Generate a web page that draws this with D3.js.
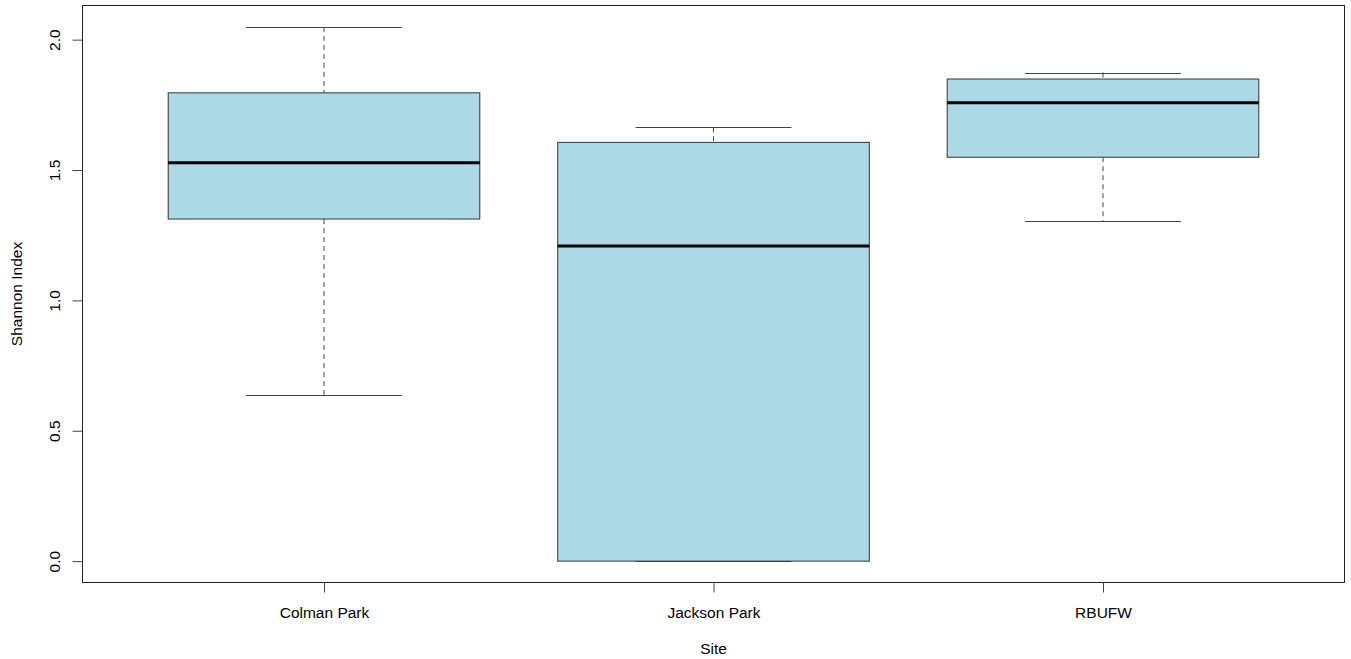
<!DOCTYPE html>
<html><head><meta charset="utf-8">
<script src="https://cdn.jsdelivr.net/npm/d3@7"></script>
<style>body{margin:0;background:#fff}svg{display:block}text{font-family:"Liberation Sans",Arial,Helvetica,sans-serif;fill:#000}</style>
</head><body>
<script>
const sites = ["Colman Park", "Jackson Park", "RBUFW"];
const lowerWhisker = [0.637, 0.0, 1.303];
const q1 = [1.312, 0.0, 1.549];
const median = [1.528, 1.209, 1.758];
const q3 = [1.796, 1.606, 1.849];
const upperWhisker = [2.049, 1.664, 1.874];
const yTicks = [0.0, 0.5, 1.0, 1.5, 2.0];

const W = 1351, H = 659;
const L = 82.5, R = 1344.5, T = 5.5, B = 582.5;
const FS = "15.5px";
const svg = d3.select("body").append("svg").attr("width", W).attr("height", H);

const ymin = 0, ymax = d3.max(upperWhisker);
const ext = (ymax - ymin) * 0.04;
const y = d3.scaleLinear().domain([ymin - ext, ymax + ext]).range([B, T]);
const x = d3.scaleLinear().domain([0.5 - 0.12, sites.length + 0.5 + 0.12]).range([L, R]);
const unit = x(2) - x(1);
const boxW = unit * 0.8, capW = boxW / 2;

const g = svg.append("g");
sites.forEach((s, i) => {
  const cx = x(i + 1);
  g.append("line").attr("x1", cx).attr("x2", cx).attr("y1", y(upperWhisker[i])).attr("y2", y(q3[i]))
    .attr("stroke", "#444").attr("stroke-width", 1).attr("stroke-dasharray", "5,4");
  g.append("line").attr("x1", cx).attr("x2", cx).attr("y1", y(q1[i])).attr("y2", y(lowerWhisker[i]))
    .attr("stroke", "#444").attr("stroke-width", 1).attr("stroke-dasharray", "5,4");
  [upperWhisker[i], lowerWhisker[i]].forEach(v => {
    g.append("line").attr("x1", cx - capW / 2).attr("x2", cx + capW / 2)
      .attr("y1", Math.round(y(v)) + 0.5).attr("y2", Math.round(y(v)) + 0.5)
      .attr("stroke", "#444").attr("stroke-width", 1);
  });
  g.append("rect").attr("x", cx - boxW / 2).attr("y", y(q3[i])).attr("width", boxW)
    .attr("height", y(q1[i]) - y(q3[i])).attr("fill", "#ADD8E6").attr("stroke", "#333").attr("stroke-width", 1);
  g.append("line").attr("x1", cx - boxW / 2).attr("x2", cx + boxW / 2).attr("y1", y(median[i])).attr("y2", y(median[i]))
    .attr("stroke", "#000").attr("stroke-width", 3);
});

svg.append("rect").attr("x", L).attr("y", T).attr("width", R - L).attr("height", B - T)
  .attr("fill", "none").attr("stroke", "#222").attr("stroke-width", 1);

const yAxis = d3.axisLeft(y).tickValues(yTicks).tickFormat(d3.format(".1f")).tickSize(10).tickPadding(0);
const ya = svg.append("g").attr("transform", `translate(${L},0)`).call(yAxis);
ya.select(".domain").remove();
ya.selectAll(".tick line").attr("stroke", "#444");
ya.selectAll(".tick text").attr("transform", "translate(-28,0) rotate(-90)").attr("x", 0).attr("dy", "0.35em")
  .attr("text-anchor", "middle").style("font-size", FS);

const xAxis = d3.axisBottom(x).tickValues(sites.map((d, i) => i + 1)).tickFormat((d) => sites[d - 1]).tickSize(10).tickPadding(14);
const xa = svg.append("g").attr("transform", `translate(0,${B})`).call(xAxis);
xa.select(".domain").remove();
xa.selectAll(".tick line").attr("stroke", "#444");
xa.selectAll(".tick text").style("font-size", FS);

svg.append("text").attr("x", (L + R) / 2).attr("y", 654).attr("text-anchor", "middle").style("font-size", FS).text("Site");
svg.append("text").attr("transform", `translate(22,${(T + B) / 2}) rotate(-90)`).attr("text-anchor", "middle")
  .style("font-size", FS).text("Shannon Index");
</script>
</body></html>
